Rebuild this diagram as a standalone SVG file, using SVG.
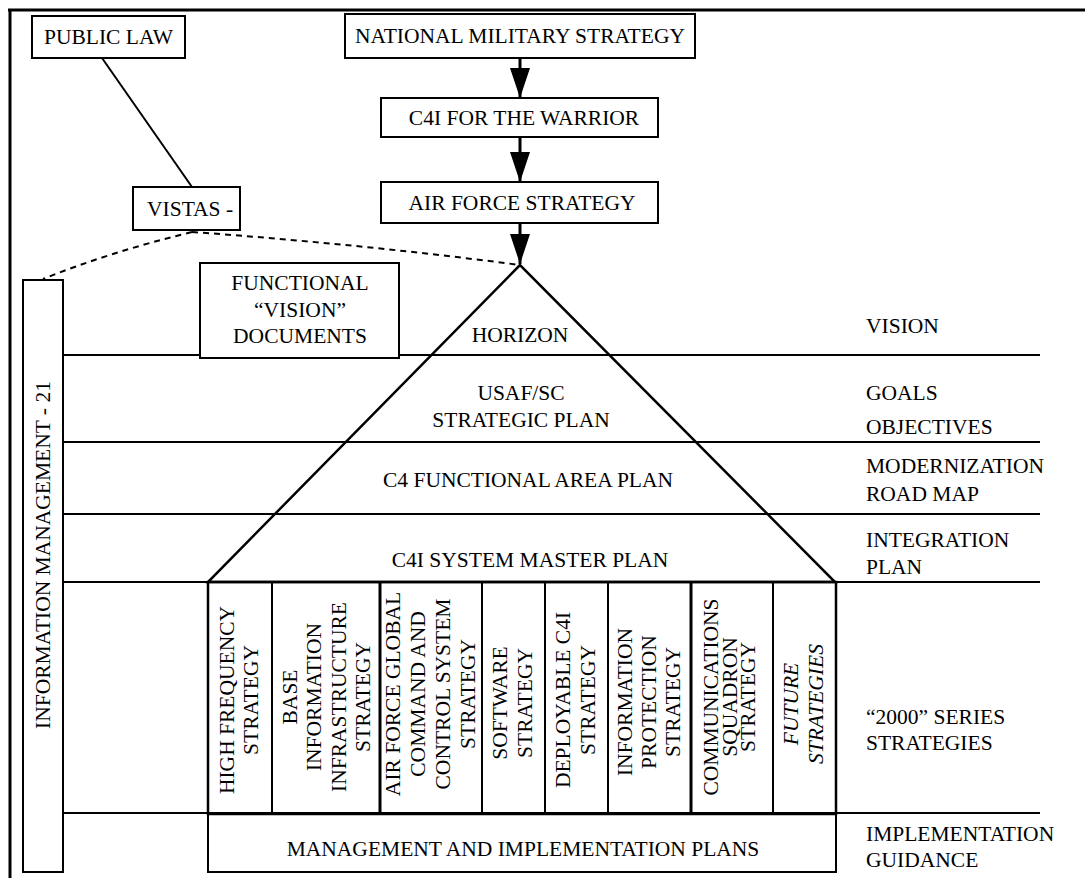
<svg xmlns="http://www.w3.org/2000/svg" width="1085" height="879" viewBox="0 0 1085 879">
<defs>
<style>
text{font-family:"Liberation Serif","Times New Roman",serif;font-size:21.5px;fill:#000}
.c{text-anchor:middle}
.box{fill:#fff;stroke:#000;stroke-width:2}
.ln{stroke:#000;stroke-width:2;fill:none}
.thick{stroke:#000;stroke-width:3;fill:none}
.dash{stroke:#000;stroke-width:2;fill:none;stroke-dasharray:6 5}
.it{font-style:italic}
</style>
<marker id="ah" markerUnits="userSpaceOnUse" markerWidth="30" markerHeight="20" refX="30" refY="10" orient="auto">
<path d="M0,0 L30,10 L0,20 z" fill="#000"/>
</marker>
</defs>
<rect width="1085" height="879" fill="#fff"/>
<g id="frame">
<line class="thick" x1="8" y1="10" x2="1085" y2="10"/>
<line class="thick" x1="10" y1="9" x2="10" y2="878"/>
</g>
<g id="bands">
<line class="ln" x1="63" y1="355" x2="1040" y2="355"/>
<line class="ln" x1="63" y1="442" x2="1040" y2="442"/>
<line class="ln" x1="63" y1="514" x2="1040" y2="514"/>
<line class="ln" x1="63" y1="582" x2="1040" y2="582"/>
<line class="ln" x1="63" y1="813" x2="1040" y2="813"/>
</g>
<g id="connectors">
<line class="ln" x1="102" y1="58" x2="192" y2="187"/>
<path class="dash" d="M192,232 Q360,244 520,265"/>
<path class="dash" d="M192,232 Q110,252 43,279"/>
<line class="thick" x1="520" y1="58" x2="520" y2="98" marker-end="url(#ah)"/>
<line class="thick" x1="520" y1="137" x2="520" y2="182" marker-end="url(#ah)"/>
<line class="thick" x1="520" y1="223" x2="520" y2="264" marker-end="url(#ah)"/>
</g>
<g id="public-law">
<rect class="box" x="32" y="16" width="153" height="42"/>
<text class="c" x="108.5" y="44">PUBLIC LAW</text>
</g>
<g id="national-military-strategy">
<rect class="box" x="345" y="14" width="350" height="44"/>
<text class="c" x="520" y="43">NATIONAL MILITARY STRATEGY</text>
</g>
<g id="c4i-warrior">
<rect class="box" x="381" y="98" width="277" height="39"/>
<text class="c" x="524" y="125">C4I FOR THE WARRIOR</text>
</g>
<g id="air-force-strategy">
<rect class="box" x="381" y="182" width="277" height="41"/>
<text class="c" x="522" y="210">AIR FORCE STRATEGY</text>
</g>
<g id="vistas">
<rect class="box" x="133" y="187" width="107" height="43"/>
<text x="147" y="216">VISTAS -</text>
</g>
<g id="im21">
<rect class="box" x="23" y="280" width="40" height="592"/>
<text class="c" transform="translate(50,555) rotate(-90)">INFORMATION MANAGEMENT - 21</text>
</g>
<g id="pyramid">
<polygon points="520,265 208,582 835,582" fill="none" stroke="#000" stroke-width="2.5"/>
<text class="c" x="520" y="342">HORIZON</text>
<text class="c" x="521" y="400">USAF/SC</text>
<text class="c" x="521" y="427">STRATEGIC PLAN</text>
<text class="c" x="528" y="487">C4 FUNCTIONAL AREA PLAN</text>
<text class="c" x="530" y="567">C4I SYSTEM MASTER PLAN</text>
</g>
<g id="functional-vision">
<rect class="box" x="200" y="263" width="199" height="95"/>
<text class="c" x="300" y="290">FUNCTIONAL</text>
<text class="c" x="300" y="317">“VISION”</text>
<text class="c" x="300" y="343">DOCUMENTS</text>
</g>
<g id="strategies">
<rect x="208" y="582" width="628" height="232" fill="none" stroke="#000" stroke-width="2.5"/>
<line class="ln" x1="272" y1="582" x2="272" y2="814"/>
<line class="thick" x1="380" y1="582" x2="380" y2="814"/>
<line class="ln" x1="482" y1="582" x2="482" y2="814"/>
<line class="ln" x1="545" y1="582" x2="545" y2="814"/>
<line class="ln" x1="608" y1="582" x2="608" y2="814"/>
<line class="thick" x1="691" y1="582" x2="691" y2="814"/>
<line class="ln" x1="773" y1="582" x2="773" y2="814"/>
<text class="c" transform="translate(234,700) rotate(-90)"><tspan x="0" dy="0">HIGH FREQUENCY</tspan><tspan x="0" dy="24">STRATEGY</tspan></text>
<text class="c" transform="translate(297,697) rotate(-90)"><tspan x="0" dy="0">BASE</tspan><tspan x="0" dy="24.3">INFORMATION</tspan><tspan x="0" dy="24.3">INFRASTRUCTURE</tspan><tspan x="0" dy="24.3">STRATEGY</tspan></text>
<text class="c" transform="translate(400,694) rotate(-90)"><tspan x="0" dy="0">AIR FORCE GLOBAL</tspan><tspan x="0" dy="25">COMMAND AND</tspan><tspan x="0" dy="25">CONTROL SYSTEM</tspan><tspan x="0" dy="25">STRATEGY</tspan></text>
<text class="c" transform="translate(507,703) rotate(-90)"><tspan x="0" dy="0">SOFTWARE</tspan><tspan x="0" dy="25">STRATEGY</tspan></text>
<text class="c" transform="translate(570,700) rotate(-90)"><tspan x="0" dy="0">DEPLOYABLE C4I</tspan><tspan x="0" dy="25">STRATEGY</tspan></text>
<text class="c" transform="translate(632,702) rotate(-90)"><tspan x="0" dy="0">INFORMATION</tspan><tspan x="0" dy="24">PROTECTION</tspan><tspan x="0" dy="24">STRATEGY</tspan></text>
<text class="c" transform="translate(718,697) rotate(-90)"><tspan x="0" dy="0">COMMUNICATIONS</tspan><tspan x="0" dy="18.5">SQUADRON</tspan><tspan x="0" dy="18.5">STRATEGY</tspan></text>
<text class="c it" transform="translate(798,704) rotate(-90)"><tspan x="0" dy="0">FUTURE</tspan><tspan x="0" dy="25">STRATEGIES</tspan></text>
</g>
<g id="management-plans">
<rect x="208" y="814" width="628" height="58" fill="none" stroke="#000" stroke-width="2"/>
<text class="c" x="523" y="856">MANAGEMENT AND IMPLEMENTATION PLANS</text>
</g>
<g id="levels">
<text x="866" y="333">VISION</text>
<text x="866" y="400">GOALS</text>
<text x="866" y="434">OBJECTIVES</text>
<text x="866" y="473">MODERNIZATION</text>
<text x="866" y="501">ROAD MAP</text>
<text x="866" y="547">INTEGRATION</text>
<text x="866" y="574">PLAN</text>
<text x="866" y="724">“2000” SERIES</text>
<text x="866" y="750">STRATEGIES</text>
<text x="866" y="841">IMPLEMENTATION</text>
<text x="866" y="867">GUIDANCE</text>
</g>
</svg>
